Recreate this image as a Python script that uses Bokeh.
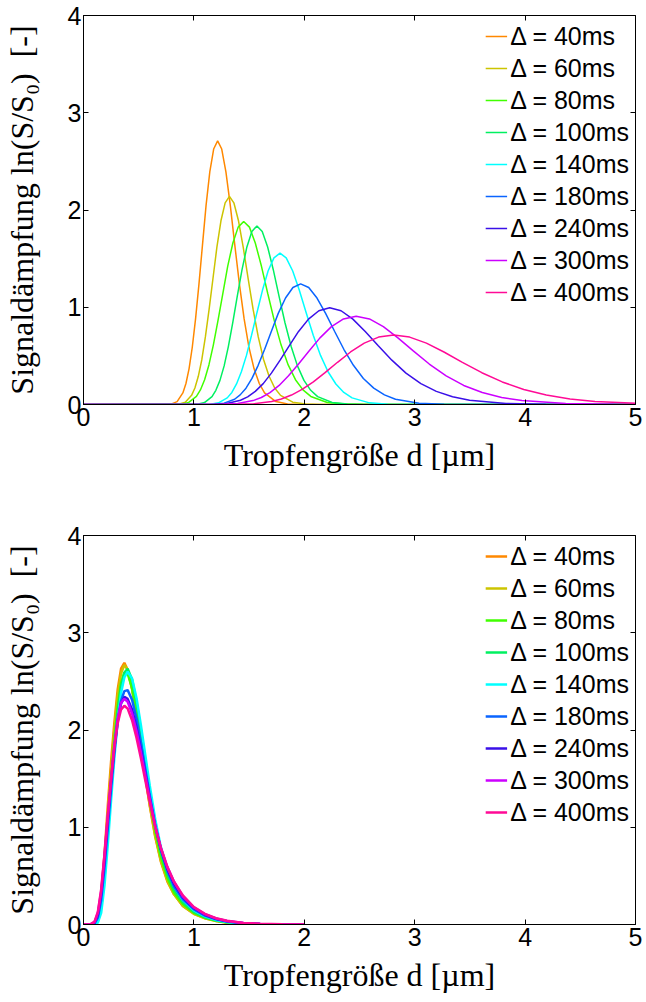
from bokeh.plotting import figure
from bokeh.layouts import column
from bokeh.models import Range1d, LinearAxis, Legend, LegendItem, FixedTicker
from bokeh.embed import file_html
from bokeh.resources import INLINE

# ---------------- data ----------------
LABELS = ["Δ = 40ms", "Δ = 60ms", "Δ = 80ms", "Δ = 100ms", "Δ = 140ms",
          "Δ = 180ms", "Δ = 240ms", "Δ = 300ms", "Δ = 400ms"]
COLORS = ["#FF8800", "#CCC400", "#40FF00", "#00F060", "#00FFFF",
          "#0A64FF", "#3A10E8", "#CC00FF", "#FF0A96"]
X_TICKS = [0, 1, 2, 3, 4, 5]
Y_TICKS = [0, 1, 2, 3, 4]

# top chart (one x/y list per curve)
top_x_40 = [0, 0.798, 0.848, 0.900, 0.928, 0.956, 0.985, 1.015, 1.046, 1.078, 1.110, 1.144, 1.179, 1.215, 1.252, 1.290, 1.330, 1.370, 1.412, 1.455, 1.499, 1.545, 1.592, 1.640, 1.742, 1.849, 1.964, 5.0]
top_y_40 = [0, 0.006, 0.030, 0.119, 0.216, 0.367, 0.586, 0.880, 1.241, 1.644, 2.045, 2.392, 2.627, 2.710, 2.627, 2.392, 2.045, 1.644, 1.241, 0.880, 0.586, 0.367, 0.216, 0.119, 0.030, 0.006, 0.001, 0.0]
top_x_60 = [0, 0.869, 0.922, 0.979, 1.009, 1.040, 1.072, 1.104, 1.138, 1.173, 1.208, 1.245, 1.283, 1.322, 1.362, 1.404, 1.447, 1.491, 1.536, 1.583, 1.631, 1.681, 1.732, 1.785, 1.895, 2.012, 2.137, 5.0]
top_y_60 = [0, 0.005, 0.024, 0.094, 0.170, 0.290, 0.463, 0.695, 0.980, 1.298, 1.615, 1.889, 2.074, 2.140, 2.074, 1.889, 1.615, 1.298, 0.980, 0.695, 0.463, 0.290, 0.170, 0.094, 0.024, 0.005, 0.001, 0.0]
top_x_80 = [0, 0.889, 0.953, 1.023, 1.059, 1.097, 1.136, 1.176, 1.218, 1.262, 1.306, 1.353, 1.401, 1.451, 1.503, 1.556, 1.612, 1.669, 1.728, 1.790, 1.854, 1.920, 1.988, 2.059, 2.208, 2.369, 2.540, 5.0]
top_y_80 = [0, 0.004, 0.021, 0.083, 0.150, 0.255, 0.407, 0.611, 0.862, 1.141, 1.421, 1.661, 1.824, 1.882, 1.824, 1.661, 1.421, 1.141, 0.862, 0.611, 0.407, 0.255, 0.150, 0.083, 0.021, 0.004, 0.001, 0.0]
top_x_100 = [0, 1.032, 1.096, 1.164, 1.199, 1.236, 1.274, 1.312, 1.352, 1.393, 1.436, 1.480, 1.525, 1.571, 1.619, 1.668, 1.719, 1.771, 1.825, 1.881, 1.938, 1.997, 2.058, 2.121, 2.252, 2.391, 2.539, 5.0]
top_y_100 = [0, 0.004, 0.020, 0.081, 0.146, 0.248, 0.397, 0.596, 0.841, 1.114, 1.386, 1.620, 1.779, 1.836, 1.779, 1.620, 1.386, 1.114, 0.841, 0.596, 0.397, 0.248, 0.146, 0.081, 0.020, 0.004, 0.001, 0.0]
top_x_140 = [0, 1.149, 1.223, 1.302, 1.344, 1.386, 1.430, 1.476, 1.522, 1.571, 1.621, 1.672, 1.725, 1.780, 1.836, 1.895, 1.955, 2.017, 2.081, 2.147, 2.215, 2.286, 2.358, 2.433, 2.590, 2.757, 2.935, 5.0]
top_y_140 = [0, 0.003, 0.017, 0.068, 0.124, 0.211, 0.337, 0.505, 0.712, 0.944, 1.174, 1.373, 1.508, 1.556, 1.508, 1.373, 1.174, 0.944, 0.712, 0.505, 0.337, 0.211, 0.124, 0.068, 0.017, 0.003, 0.001, 0.0]
top_x_180 = [0, 1.184, 1.273, 1.369, 1.419, 1.472, 1.526, 1.582, 1.641, 1.702, 1.764, 1.830, 1.897, 1.967, 2.040, 2.115, 2.193, 2.274, 2.358, 2.445, 2.535, 2.629, 2.726, 2.826, 3.039, 3.267, 3.513, 5.0]
top_y_180 = [0, 0.003, 0.014, 0.054, 0.099, 0.168, 0.268, 0.403, 0.568, 0.753, 0.937, 1.095, 1.203, 1.241, 1.203, 1.095, 0.937, 0.753, 0.568, 0.403, 0.268, 0.168, 0.099, 0.054, 0.014, 0.003, 0.0, 0.0]
top_x_240 = [0, 1.188, 1.299, 1.422, 1.487, 1.556, 1.628, 1.702, 1.781, 1.863, 1.948, 2.038, 2.132, 2.230, 2.333, 2.440, 2.552, 2.670, 2.793, 2.921, 3.056, 3.196, 3.343, 3.497, 3.827, 4.187, 4.581, 5.0]
top_y_240 = [0, 0.002, 0.011, 0.044, 0.079, 0.135, 0.215, 0.323, 0.456, 0.603, 0.751, 0.878, 0.964, 0.995, 0.964, 0.878, 0.751, 0.603, 0.456, 0.323, 0.215, 0.135, 0.079, 0.044, 0.011, 0.002, 0.0, 0.0]
top_x_300 = [0, 1.270, 1.397, 1.536, 1.611, 1.689, 1.772, 1.857, 1.948, 2.043, 2.142, 2.246, 2.355, 2.470, 2.590, 2.716, 2.848, 2.987, 3.132, 3.285, 3.444, 3.612, 3.788, 3.972, 4.368, 4.803, 5.282]
top_y_300 = [0, 0.002, 0.010, 0.040, 0.072, 0.123, 0.196, 0.295, 0.416, 0.551, 0.685, 0.801, 0.880, 0.908, 0.880, 0.801, 0.685, 0.551, 0.416, 0.295, 0.196, 0.123, 0.072, 0.040, 0.010, 0.002, 0.0]
top_x_400 = [0, 1.395, 1.542, 1.704, 1.792, 1.884, 1.980, 2.082, 2.188, 2.301, 2.419, 2.543, 2.673, 2.810, 2.954, 3.106, 3.265, 3.432, 3.608, 3.793, 3.988, 4.192, 4.407, 4.633, 5.120, 5.659, 6.254]
top_y_400 = [0, 0.002, 0.008, 0.031, 0.057, 0.097, 0.155, 0.232, 0.327, 0.434, 0.540, 0.631, 0.693, 0.715, 0.693, 0.631, 0.540, 0.434, 0.327, 0.232, 0.155, 0.097, 0.057, 0.031, 0.008, 0.002, 0.0]

# bottom chart (shared x grid)
bot_x = [0, 0.06, 0.10, 0.13, 0.16, 0.19, 0.22, 0.25, 0.28, 0.31, 0.34, 0.37, 0.40, 0.44, 0.48, 0.52, 0.56, 0.60, 0.65, 0.70, 0.76, 0.82, 0.90, 1.0, 1.1, 1.2, 1.3, 1.45, 1.6, 1.8, 2.0]
bot_y_40 = [0, 0, 0.01, 0.08, 0.30, 0.72, 1.22, 1.68, 2.08, 2.42, 2.63, 2.69, 2.62, 2.42, 2.15, 1.84, 1.52, 1.22, 0.90, 0.65, 0.44, 0.31, 0.19, 0.11, 0.065, 0.037, 0.020, 0.008, 0.003, 0.001, 0]
bot_y_60 = [0, 0, 0.008, 0.07, 0.27, 0.66, 1.14, 1.60, 2.01, 2.36, 2.58, 2.67, 2.62, 2.43, 2.16, 1.85, 1.53, 1.23, 0.91, 0.66, 0.45, 0.31, 0.19, 0.11, 0.063, 0.035, 0.019, 0.008, 0.003, 0.001, 0]
bot_y_80 = [0, 0, 0.005, 0.05, 0.22, 0.57, 1.02, 1.48, 1.90, 2.24, 2.48, 2.59, 2.58, 2.43, 2.18, 1.89, 1.58, 1.28, 0.96, 0.70, 0.48, 0.33, 0.21, 0.12, 0.07, 0.04, 0.022, 0.009, 0.003, 0.001, 0]
bot_y_100 = [0, 0, 0.003, 0.035, 0.17, 0.48, 0.92, 1.38, 1.82, 2.19, 2.45, 2.59, 2.63, 2.52, 2.29, 2.00, 1.68, 1.37, 1.02, 0.75, 0.52, 0.36, 0.23, 0.13, 0.075, 0.042, 0.023, 0.009, 0.003, 0.001, 0]
bot_y_140 = [0, 0, 0.001, 0.02, 0.12, 0.40, 0.82, 1.28, 1.72, 2.10, 2.38, 2.54, 2.60, 2.53, 2.33, 2.05, 1.74, 1.43, 1.08, 0.80, 0.56, 0.39, 0.25, 0.145, 0.083, 0.047, 0.026, 0.011, 0.004, 0.001, 0]
bot_y_180 = [0, 0, 0.01, 0.07, 0.25, 0.58, 0.99, 1.40, 1.78, 2.09, 2.30, 2.40, 2.41, 2.31, 2.12, 1.87, 1.60, 1.33, 1.02, 0.77, 0.55, 0.39, 0.26, 0.155, 0.092, 0.053, 0.030, 0.012, 0.005, 0.001, 0]
bot_y_240 = [0, 0, 0.02, 0.10, 0.31, 0.66, 1.07, 1.47, 1.82, 2.10, 2.27, 2.34, 2.32, 2.21, 2.03, 1.80, 1.55, 1.30, 1.01, 0.78, 0.57, 0.42, 0.28, 0.168, 0.10, 0.059, 0.034, 0.014, 0.006, 0.0015, 0]
bot_y_300 = [0, 0, 0.025, 0.12, 0.34, 0.70, 1.11, 1.50, 1.85, 2.12, 2.28, 2.32, 2.29, 2.17, 1.99, 1.77, 1.53, 1.29, 1.01, 0.79, 0.59, 0.44, 0.29, 0.176, 0.106, 0.063, 0.036, 0.015, 0.006, 0.002, 0]
bot_y_400 = [0, 0, 0.03, 0.13, 0.36, 0.72, 1.12, 1.50, 1.83, 2.07, 2.21, 2.25, 2.22, 2.10, 1.92, 1.71, 1.48, 1.26, 1.00, 0.79, 0.59, 0.44, 0.30, 0.18, 0.11, 0.065, 0.038, 0.016, 0.007, 0.002, 0]

TOP_XS = [top_x_40, top_x_60, top_x_80, top_x_100, top_x_140, top_x_180, top_x_240, top_x_300, top_x_400]
TOP_YS = [top_y_40, top_y_60, top_y_80, top_y_100, top_y_140, top_y_180, top_y_240, top_y_300, top_y_400]
BOT_XS = [bot_x] * 9
BOT_YS = [bot_y_40, bot_y_60, bot_y_80, bot_y_100, bot_y_140, bot_y_180, bot_y_240, bot_y_300, bot_y_400]

TICK_FONT = "Liberation Sans"
LABEL_FONT = "Liberation Serif"


def make_fig(xs, ys, height, left, right, top, bottom, lw):
    p = figure(width=646, height=height, x_range=Range1d(0, 5), y_range=Range1d(0, 4),
               output_backend="svg", toolbar_location=None,
               min_border_left=left, min_border_right=right,
               min_border_top=top, min_border_bottom=bottom)
    p.grid.visible = False
    p.background_fill_color = "white"
    p.border_fill_color = "white"
    p.outline_line_color = "black"
    p.outline_line_alpha = 1.0
    p.outline_line_width = 1

    for ax, ticks in ((p.xaxis[0], X_TICKS), (p.yaxis[0], Y_TICKS)):
        ax.ticker = FixedTicker(ticks=ticks)
        ax.axis_line_color = "black"
        ax.major_tick_in = 5
        ax.major_tick_out = 0
        ax.major_tick_line_color = "black"
        ax.minor_tick_line_color = None
        ax.major_label_text_font = TICK_FONT
        ax.major_label_text_font_size = "25px"
        ax.major_label_text_color = "black"
        ax.axis_label_text_font = LABEL_FONT
        ax.axis_label_text_font_size = "32px"
        ax.axis_label_text_font_style = "normal"
        ax.axis_label_text_color = "black"
    p.xaxis.major_label_standoff = 3
    p.yaxis.major_label_standoff = 2
    p.xaxis.axis_label = "Tropfengröße d [µm]"
    p.xaxis.axis_label_standoff = 8
    p.yaxis.axis_label = "Signaldämpfung ln(S/S₀)\u2002[-]"
    p.yaxis.axis_label_standoff = 25

    # tick marks on the top and right frame edges (no labels)
    for loc, ticks in (("above", X_TICKS), ("right", Y_TICKS)):
        ax = LinearAxis(ticker=FixedTicker(ticks=ticks), major_label_text_font_size="1px",
                        major_label_text_color=None, major_label_standoff=0,
                        major_tick_in=5, major_tick_out=0,
                        major_tick_line_color="black", minor_tick_line_color=None,
                        axis_line_color=None)
        p.add_layout(ax, loc)

    items = []
    for x, y, c, lbl in zip(xs, ys, COLORS, LABELS):
        r = p.line(x, y, line_color=c, line_width=lw)
        items.append(LegendItem(label=lbl, renderers=[r]))
    leg = Legend(items=items, location="top_right",
                 label_text_font=TICK_FONT, label_text_font_size="25px",
                 label_text_color="black",
                 glyph_width=22, glyph_height=30, label_height=30,
                 spacing=2, padding=6, margin=0, label_standoff=3,
                 background_fill_alpha=0, border_line_alpha=0)
    p.add_layout(leg)
    return p


p1 = make_fig(TOP_XS, TOP_YS, 500, 82, 8, 15, 96, 1.5)
p2 = make_fig(BOT_XS, BOT_YS, 502, 79, 11, 35, 78, 2.5)

layout = column(p1, p2, spacing=0)
open("out.html", "w").write(file_html(layout, INLINE))
